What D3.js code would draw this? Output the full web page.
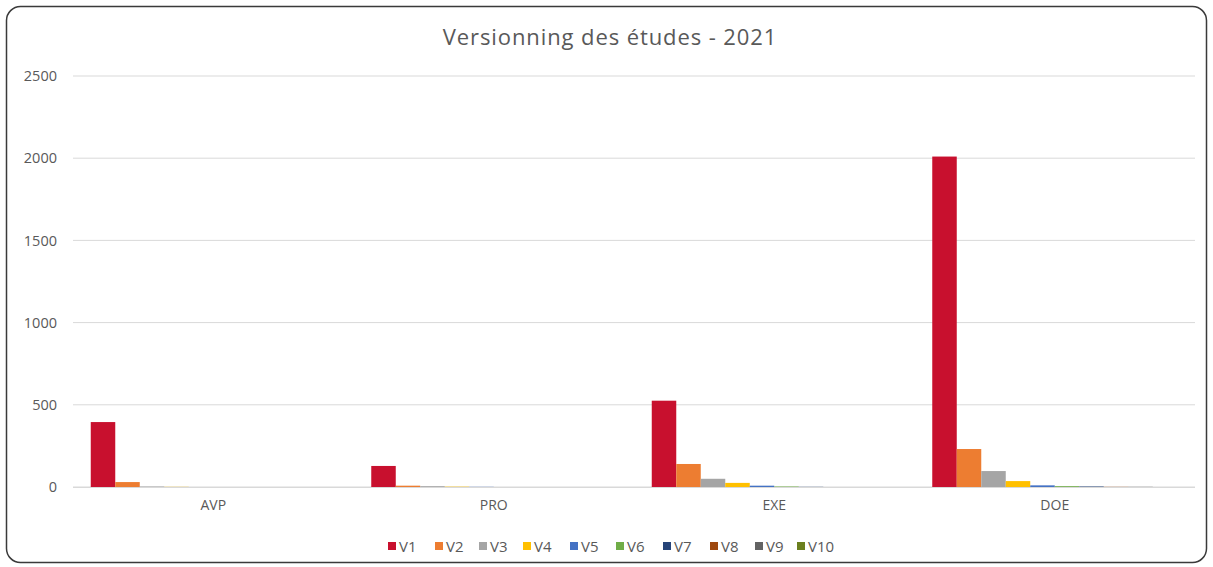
<!DOCTYPE html>
<html>
<head>
<meta charset="utf-8">
<script src="https://cdn.jsdelivr.net/npm/d3@7"></script>
<style>
  body { margin: 0; background: #fff; }
  svg { font-family: "Open Sans", "Liberation Sans", sans-serif; }
</style>
</head>
<body>
<svg id="chart" width="1213" height="567"></svg>
<script>
const categories = ["AVP", "PRO", "EXE", "DOE"];
const seriesNames = ["V1", "V2", "V3", "V4", "V5", "V6", "V7", "V8", "V9", "V10"];
const seriesColors = ["#c8102e", "#ed7d31", "#a5a5a5", "#ffc000", "#4472c4", "#70ad47", "#264478", "#9e480e", "#636363", "#6b7f1e"];
// values per category, one entry per series V1..V10
const avpValues = [395, 30, 3, 1, 0, 0, 0, 0, 0, 0];
const proValues = [128, 8, 5, 2, 1, 0, 0, 0, 0, 0];
const exeValues = [525, 140, 50, 25, 8, 3, 1, 0, 0, 0];
const doeValues = [2010, 231, 97, 36, 10, 5, 3, 1, 1, 0];
const yTicks = [0, 500, 1000, 1500, 2000, 2500];

const rows = [avpValues, proValues, exeValues, doeValues];
const data = categories.map((c, i) => ({ category: c, values: rows[i] }));

const svg = d3.select("#chart");
const plot = { left: 73, right: 1195, top: 76, bottom: 487 };

// outer frame
svg.append("rect")
  .attr("x", 6.5).attr("y", 6.5)
  .attr("width", 1200).attr("height", 556)
  .attr("rx", 14)
  .attr("fill", "#fff")
  .attr("stroke", "#3a3a3a")
  .attr("stroke-width", 1.5);

svg.append("text")
  .text("Versionning des études - 2021")
  .attr("x", 610).attr("y", 45)
  .attr("text-anchor", "middle")
  .style("font-size", "22px")
  .style("letter-spacing", "0.9px")
  .style("fill", "#595959");

const xScale = d3.scaleBand()
  .domain(categories)
  .range([plot.left, plot.right])
  .paddingInner(0.1266)
  .paddingOuter(0.0633);

const xInner = d3.scaleBand()
  .domain(seriesNames)
  .range([0, xScale.bandwidth()]);

const yScale = d3.scaleLinear()
  .domain([0, 2500])
  .range([plot.bottom, plot.top]);

// gridlines
svg.append("g")
  .selectAll("line")
  .data(yTicks)
  .enter()
  .append("line")
  .attr("x1", plot.left).attr("x2", plot.right)
  .attr("y1", (d) => yScale(d)).attr("y2", (d) => yScale(d))
  .attr("stroke", "#d9d9d9")
  .attr("stroke-width", 1);

// y axis labels
const yAxis = d3.axisLeft(yScale)
  .tickValues(yTicks)
  .tickFormat(d3.format("d"))
  .tickSize(0)
  .tickPadding(0);
const yAxisG = svg.append("g")
  .attr("transform", `translate(57,0)`)
  .call(yAxis);
yAxisG.select(".domain").remove();
yAxisG.selectAll("text")
  .style("font-size", "14.5px")
  .style("font-family", "'Open Sans', sans-serif")
  .style("fill", "#595959");

// bars
const groups = svg.append("g")
  .selectAll("g")
  .data(data)
  .enter()
  .append("g")
  .attr("transform", (d) => `translate(${xScale(d.category)},0)`);

groups.selectAll("rect")
  .data((d) => d.values.map((v, i) => ({ name: seriesNames[i], value: v, color: seriesColors[i] })))
  .enter()
  .append("rect")
  .attr("x", (d) => xInner(d.name))
  .attr("width", xInner.bandwidth())
  .attr("y", (d) => yScale(d.value))
  .attr("height", (d) => plot.bottom - yScale(d.value))
  .attr("fill", (d) => d.color);

// x axis
const xAxis = d3.axisBottom(xScale).tickSize(0).tickPadding(13);
const xAxisG = svg.append("g")
  .attr("transform", `translate(0,${plot.bottom})`)
  .call(xAxis);
xAxisG.select(".domain")
  .attr("stroke", "#d9d9d9")
  .attr("d", `M${plot.left},0.5H${plot.right}`);
xAxisG.selectAll("text")
  .style("font-size", "14px")
  .style("font-family", "'Open Sans', sans-serif")
  .style("fill", "#595959");

// legend
const legendX = [388, 435, 479, 523, 570, 616, 663, 710, 755, 797];
const legend = svg.append("g")
  .selectAll("g")
  .data(seriesNames)
  .enter()
  .append("g")
  .attr("transform", (d, i) => `translate(${legendX[i]},546)`);

legend.append("rect")
  .attr("x", 0).attr("y", -4)
  .attr("width", 8).attr("height", 8)
  .attr("fill", (d, i) => seriesColors[i]);

legend.append("text")
  .text((d) => d)
  .attr("x", 11).attr("y", 5.5)
  .style("font-size", "15px")
  .style("fill", "#595959");
</script>
</body>
</html>
